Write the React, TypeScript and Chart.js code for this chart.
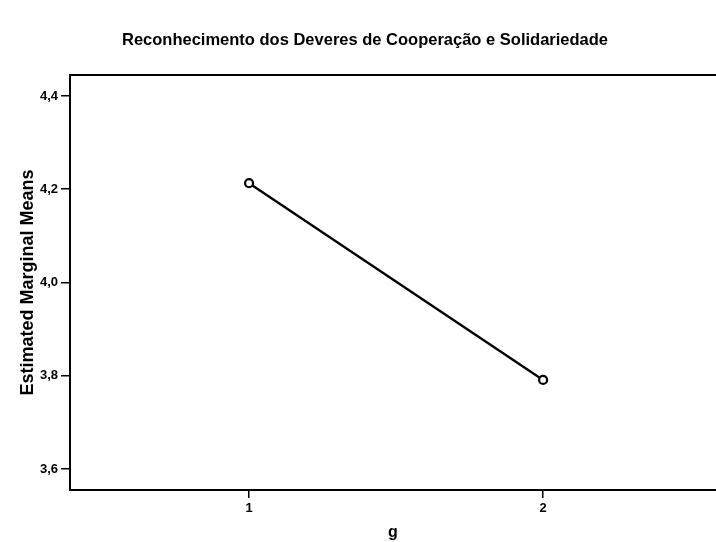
import React, { useEffect, useRef } from "react";
import { Chart, registerables } from "chart.js";

Chart.register(...registerables);

const titleText = "Reconhecimento dos Deveres de Cooperação e Solidariedade";
const xLabel = "g";
const yLabel = "Estimated Marginal Means";
const groups = [1, 2];
const means = [4.213, 3.791];
const yTicks = [3.6, 3.8, 4.0, 4.2, 4.4];
const xTicks = [1, 2];

const FONT = "'Liberation Sans', Arial, Helvetica, sans-serif";

export default function App() {
  const ref = useRef<HTMLCanvasElement | null>(null);

  useEffect(() => {
    if (!ref.current) return;
    const deco = {
      id: "deco",
      afterDraw(chart: any) {
        const { ctx, chartArea } = chart;
        ctx.save();
        ctx.strokeStyle = "#000";
        ctx.lineWidth = 2;
        ctx.beginPath();
        ctx.moveTo(chartArea.left - 1, chartArea.top);
        ctx.lineTo(chartArea.right + 2, chartArea.top);
        ctx.stroke();
        ctx.fillStyle = "#000";
        ctx.font = `bold 16.5px ${FONT}`;
        ctx.textAlign = "center";
        ctx.textBaseline = "middle";
        ctx.fillText(titleText, 365, 40);
        ctx.restore();
      },
    };
    const chart = new Chart(ref.current, {
      type: "line",
      data: {
        datasets: [
          {
            data: groups.map((g, i) => ({ x: g, y: means[i] })),
            borderColor: "#000",
            borderWidth: 2.3,
            pointRadius: 4,
            pointBorderWidth: 2.2,
            pointBackgroundColor: "#fff",
            pointBorderColor: "#000",
            tension: 0,
          },
        ],
      },
      options: {
        responsive: false,
        animation: false,
        layout: { padding: { top: 75, left: 0, right: 0, bottom: 0 }, autoPadding: false },
        plugins: {
          legend: { display: false },
          tooltip: { enabled: false },
          title: { display: false },
        },
        scales: {
          x: {
            type: "linear",
            min: 0.391,
            max: 2.588,
            afterBuildTicks: (s: any) => {
              s.ticks = xTicks.map((v) => ({ value: v }));
            },
            afterFit: (s: any) => {
              s.height = 52;
              s.paddingLeft = 0;
              s.paddingRight = 0;
            },
            ticks: {
              color: "#000",
              font: { family: FONT, size: 13, weight: "bold" },
              padding: 3,
              maxRotation: 0,
              callback: (v: any) => String(v),
            },
            grid: {
              display: true,
              drawOnChartArea: false,
              drawTicks: true,
              tickLength: 8,
              color: "#000",
              lineWidth: 1.5,
            },
            border: { display: true, color: "#000", width: 2 },
            title: {
              display: true,
              text: xLabel,
              color: "#000",
              font: { family: FONT, size: 16, weight: "bold" },
              padding: { top: 0, bottom: 0 },
            },
          },
          y: {
            type: "linear",
            min: 3.555,
            max: 4.445,
            afterBuildTicks: (s: any) => {
              s.ticks = yTicks.map((v) => ({ value: v }));
            },
            afterFit: (s: any) => {
              s.width = 70;
            },
            ticks: {
              color: "#000",
              font: { family: FONT, size: 13, weight: "bold" },
              padding: 3,
              callback: (v: any) => Number(v).toFixed(1).replace(".", ","),
            },
            grid: {
              display: true,
              drawOnChartArea: false,
              drawTicks: true,
              tickLength: 9,
              color: "#000",
              lineWidth: 1.5,
            },
            border: { display: true, color: "#000", width: 2 },
            title: {
              display: true,
              text: yLabel,
              color: "#000",
              font: { family: FONT, size: 18, weight: "bold" },
              padding: { top: 17, bottom: 0 },
            },
          },
        },
      },
      plugins: [deco],
    } as any);
    return () => chart.destroy();
  }, []);

  return (
    <div style={{ position: "fixed", left: 0, top: 0, width: 716, height: 542, background: "#fff" }}>
      <canvas ref={ref} width={716} height={542} style={{ width: 716, height: 542, display: "block" }} />
    </div>
  );
}
